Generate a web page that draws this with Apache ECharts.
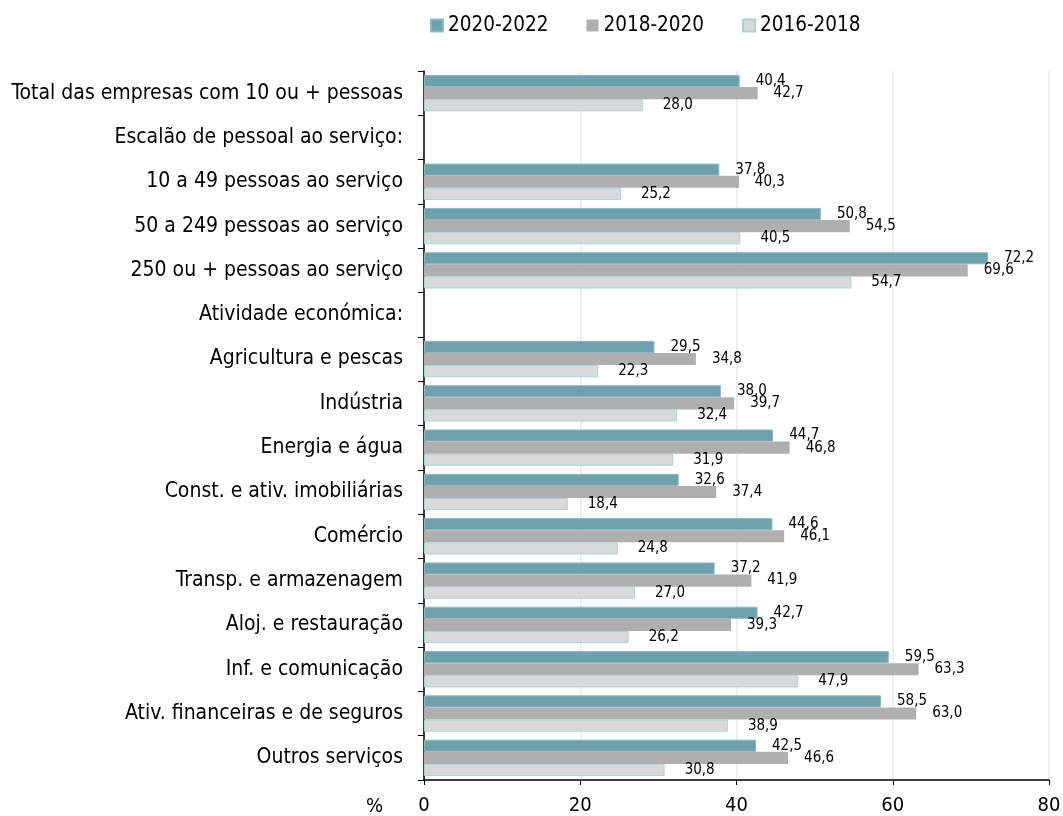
<!DOCTYPE html>
<html>
<head>
<meta charset="utf-8">
<script src="https://cdn.jsdelivr.net/npm/echarts@6/dist/echarts.min.js"></script>
<style>
  html, body { margin: 0; padding: 0; background: #fff; }
  #chart { width: 1063px; height: 816px; }
</style>
</head>
<body>
<div id="chart"></div>
<script>
// categorias (as linhas de cabeçalho não têm valores)
const categorias = [
  'Total das empresas com 10 ou + pessoas',
  'Escalão de pessoal ao serviço:',
  '10 a 49 pessoas ao serviço',
  '50 a 249 pessoas ao serviço',
  '250 ou + pessoas ao serviço',
  'Atividade económica:',
  'Agricultura e pescas',
  'Indústria',
  'Energia e água',
  'Const. e ativ. imobiliárias',
  'Comércio',
  'Transp. e armazenagem',
  'Aloj. e restauração',
  'Inf. e comunicação',
  'Ativ. financeiras e de seguros',
  'Outros serviços'
];
const p2020_2022 = [40.4, null, 37.8, 50.8, 72.2, null, 29.5, 38.0, 44.7, 32.6, 44.6, 37.2, 42.7, 59.5, 58.5, 42.5];
const p2018_2020 = [42.7, null, 40.3, 54.5, 69.6, null, 34.8, 39.7, 46.8, 37.4, 46.1, 41.9, 39.3, 63.3, 63.0, 46.6];
const p2016_2018 = [28.0, null, 25.2, 40.5, 54.7, null, 22.3, 32.4, 31.9, 18.4, 24.8, 27.0, 26.2, 47.9, 38.9, 30.8];
const xTicks = [0, 20, 40, 60, 80];

const FONT = '"Liberation Sans Narrow", "DejaVu Sans Condensed", sans-serif';

const fmt = p => (p.value == null ? '' : p.value.toFixed(1).replace('.', ','));

function serie(nome, dados, cor, borda, dist) {
  return {
    name: nome,
    type: 'bar',
    data: dados,
    barGap: '0%',
    barCategoryGap: '18%',
    itemStyle: { color: cor, borderColor: borda, borderWidth: borda ? 1 : 0 },
    label: {
      show: true,
      position: 'right',
      distance: dist,
      formatter: fmt,
      color: '#000',
      fontFamily: FONT,
      fontSize: 15
    }
  };
}

const chart = echarts.init(document.getElementById('chart'));
chart.setOption({
  animation: false,
  legend: {
    top: 10,
    left: 425,
    icon: 'rect',
    itemWidth: 12,
    itemHeight: 12,
    itemGap: 38,
    textStyle: { fontFamily: FONT, fontSize: 20.5, color: '#000' },
    data: ['2020-2022', '2018-2020', '2016-2018']
  },
  grid: { left: 424, right: 14, top: 71, bottom: 36, outerBoundsMode: 'none', containLabel: false },
  xAxis: {
    type: 'value',
    min: xTicks[0],
    max: xTicks[xTicks.length - 1],
    interval: 20,
    axisLine: { show: true, lineStyle: { color: '#000', width: 1.5 } },
    axisTick: { show: true, length: 5, lineStyle: { color: '#000' } },
    splitLine: { show: true, lineStyle: { color: '#e8e8e8', width: 1.5 } },
    axisLabel: { fontFamily: FONT, fontSize: 20, color: '#000', margin: 16 }
  },
  yAxis: {
    type: 'category',
    inverse: true,
    data: categorias,
    axisLine: { show: true, lineStyle: { color: '#000', width: 1.5 } },
    axisTick: { show: true, length: 6, lineStyle: { color: '#000' } },
    axisLabel: { fontFamily: FONT, fontSize: 21, color: '#000', margin: 21 }
  },
  graphic: [{
    type: 'text',
    left: 366,
    top: 797,
    style: { text: '%', font: '20px ' + FONT, fill: '#000' }
  }],
  series: [
    serie('2020-2022', p2020_2022, '#6fa0ae', '#8fb8c2', 16),
    serie('2018-2020', p2018_2020, '#afafaf', null, 16),
    serie('2016-2018', p2016_2018, '#d9d9d9', '#a9d4d8', 20)
  ]
});
</script>
</body>
</html>
